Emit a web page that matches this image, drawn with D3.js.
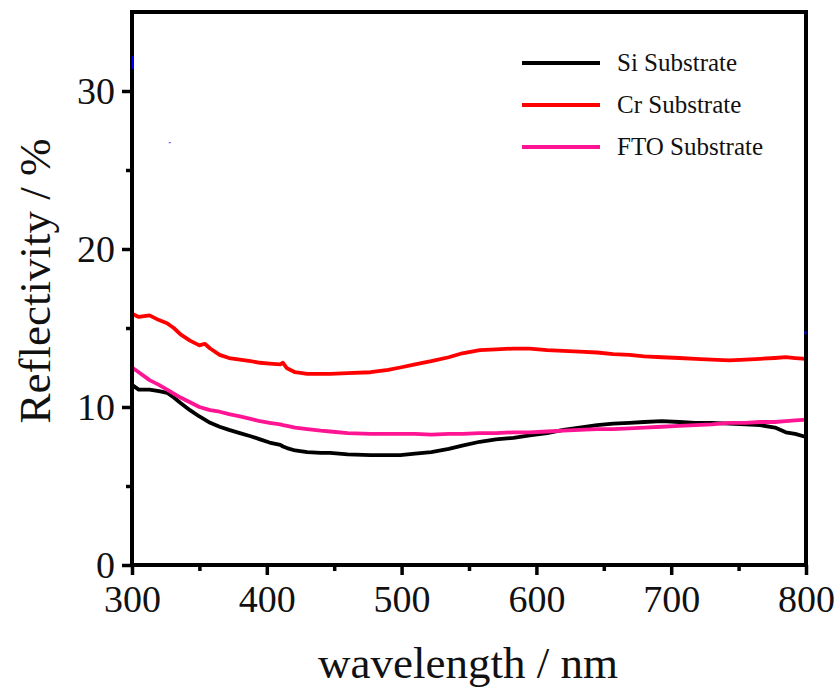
<!DOCTYPE html>
<html>
<head>
<meta charset="utf-8">
<script src="https://cdn.jsdelivr.net/npm/d3@7"></script>
<style>
  body { margin: 0; background: #fff; }
</style>
</head>
<body>
<svg id="chart" width="838" height="689"></svg>
<script>
// Data (wavelength nm, reflectivity %)
var wavelengths = [300, 305, 313, 320, 326, 331, 336, 343, 350, 354, 358, 365, 372, 380, 388, 395, 402, 410, 412, 415, 421, 430, 440, 447, 460, 477, 490, 499, 510, 522, 535, 545, 558, 570, 583, 595, 608, 620, 632, 645, 657, 669, 680, 693, 706, 718, 730, 743, 755, 766, 777, 785, 792, 800];
var siValues = [11.4, 11.1, 11.1, 11.0, 10.9, 10.6, 10.25, 9.8, 9.4, 9.2, 9.0, 8.75, 8.55, 8.35, 8.15, 7.95, 7.75, 7.6, 7.5, 7.4, 7.25, 7.15, 7.1, 7.1, 7.0, 6.95, 6.95, 6.95, 7.05, 7.15, 7.35, 7.55, 7.8, 7.95, 8.05, 8.2, 8.35, 8.55, 8.7, 8.85, 8.95, 9.0, 9.05, 9.1, 9.05, 9.0, 9.0, 8.95, 8.9, 8.85, 8.7, 8.4, 8.3, 8.1];
var crValues = [15.9, 15.7, 15.8, 15.5, 15.3, 15.0, 14.6, 14.2, 13.9, 14.0, 13.7, 13.3, 13.1, 13.0, 12.9, 12.8, 12.75, 12.7, 12.8, 12.45, 12.2, 12.1, 12.1, 12.1, 12.15, 12.2, 12.35, 12.5, 12.7, 12.9, 13.15, 13.4, 13.6, 13.65, 13.7, 13.7, 13.6, 13.55, 13.5, 13.45, 13.35, 13.3, 13.2, 13.15, 13.1, 13.05, 13.0, 12.95, 13.0, 13.05, 13.1, 13.15, 13.1, 13.05];
var ftoValues = [12.5, 12.2, 11.7, 11.4, 11.1, 10.85, 10.6, 10.3, 10.0, 9.9, 9.8, 9.7, 9.55, 9.4, 9.25, 9.1, 9.0, 8.9, 8.85, 8.8, 8.7, 8.6, 8.5, 8.45, 8.35, 8.3, 8.3, 8.3, 8.3, 8.25, 8.3, 8.3, 8.35, 8.35, 8.4, 8.4, 8.45, 8.5, 8.55, 8.6, 8.6, 8.65, 8.7, 8.75, 8.8, 8.85, 8.9, 9.0, 9.0, 9.05, 9.05, 9.1, 9.15, 9.2];
var seriesNames = ["Si Substrate", "Cr Substrate", "FTO Substrate"];
var seriesColors = ["#000000", "#ff0000", "#ff1493"];
var xTicks = [300, 400, 500, 600, 700, 800];
var yTicks = [0, 10, 20, 30];
// small blue specks visible in the picture
var blueSpecks = [{x: 300.5, y0: 31.4, y1: 32.2}, {x: 328, y0: 26.7, y1: 26.75}, {x: 799.5, y0: 14.6, y1: 14.8}];

const serif = '"Liberation Serif", "Times New Roman", Times, "DejaVu Serif", serif';

var svg = d3.select('#chart');
const margin = {top: 12, bottom: 124, left: 132, right: 32};
var width = 838 - margin.left - margin.right;
var height = 689 - margin.top - margin.bottom;

const g = svg.append('g')
  .attr('transform', `translate(${margin.left}, ${margin.top})`);

const xscale = d3.scaleLinear().domain([300, 800]).range([0, width]);
const yscale = d3.scaleLinear().domain([0, 35]).range([height, 0]);

// minor ticks
const xaxisMinor = d3.axisBottom(xscale).tickValues(d3.range(350, 800, 100)).tickSize(6).tickFormat('');
const yaxisMinor = d3.axisLeft(yscale).tickValues([5, 15, 25]).tickSize(6).tickFormat('');
const xaxis = d3.axisBottom(xscale).tickValues(xTicks).tickSize(10).tickPadding(7).tickFormat(d3.format('d'));
const yaxis = d3.axisLeft(yscale).tickValues(yTicks).tickSize(10).tickPadding(7).tickFormat(d3.format('d'));

function styleAxis(sel) {
  sel.attr('font-family', serif);
  sel.select('.domain').remove();
  sel.selectAll('.tick line').attr('stroke', '#000').attr('stroke-width', 3.5);
  sel.selectAll('.tick text').attr('fill', '#111').style('font-family', serif).style('font-size', '38px');
}
g.append('g').attr('transform', `translate(0,${height})`).call(xaxisMinor).call(styleAxis);
g.append('g').call(yaxisMinor).call(styleAxis);
g.append('g').attr('transform', `translate(0,${height})`).call(xaxis).call(styleAxis)
  .selectAll('.tick text').attr('y', 47).attr('dy', 0);
g.append('g').call(yaxis).call(styleAxis);

// Lines
var line = d3.line()
  .x(function(d) { return xscale(d.x); })
  .y(function(d) { return yscale(d.y); });

[siValues, crValues, ftoValues].forEach(function(vals, i) {
  var data = wavelengths.map(function(w, j) { return {x: w, y: vals[j]}; });
  g.append('path')
    .datum(data)
    .attr('d', line)
    .attr('fill', 'none')
    .attr('stroke', seriesColors[i])
    .attr('stroke-width', 3.8)
    .attr('stroke-linejoin', 'round');
});

// frame
g.append('rect')
  .attr('x', 0).attr('y', 0)
  .attr('width', width).attr('height', height)
  .attr('fill', 'none')
  .attr('stroke', '#000')
  .attr('stroke-width', 4);

g.selectAll('.speck')
  .data(blueSpecks)
  .enter().append('line')
  .attr('x1', function(d) { return xscale(d.x); })
  .attr('x2', function(d) { return xscale(d.x); })
  .attr('y1', function(d) { return yscale(d.y0); })
  .attr('y2', function(d) { return yscale(d.y1); })
  .attr('stroke', '#0000ff')
  .attr('stroke-width', 2);

// Legend
const legend = g.append('g').attr('transform', 'translate(390, 51)');
seriesNames.forEach(function(name, i) {
  var row = legend.append('g').attr('transform', `translate(0, ${i * 42})`);
  row.append('line')
    .attr('x1', 0).attr('x2', 78)
    .attr('y1', 0).attr('y2', 0)
    .attr('stroke', seriesColors[i])
    .attr('stroke-width', 4);
  row.append('text')
    .attr('x', 95).attr('y', 0).attr('dy', '0.33em')
    .style('font-family', serif)
    .style('font-size', '25px')
    .attr('fill', '#111')
    .text(name);
});

// Axis titles
svg.append('text')
  .attr('x', margin.left + width / 2 - 1)
  .attr('y', 678)
  .attr('text-anchor', 'middle')
  .style('font-family', serif)
  .style('font-size', '45px')
  .attr('fill', '#111')
  .text('wavelength / nm');

svg.append('text')
  .attr('transform', 'translate(50, 281) rotate(-90)')
  .attr('text-anchor', 'middle')
  .style('font-family', serif)
  .style('font-size', '45px')
  .attr('fill', '#111')
  .text('Reflectivity / %');
</script>
</body>
</html>
